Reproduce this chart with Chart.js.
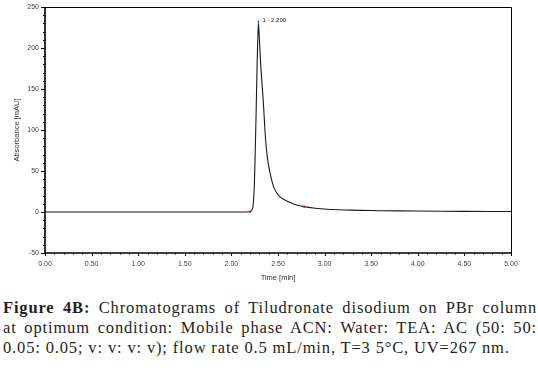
<!DOCTYPE html>
<html>
<head>
<meta charset="utf-8">
<script src="https://cdn.jsdelivr.net/npm/chart.js@4/dist/chart.umd.min.js"></script>
<style>
  html, body { margin: 0; padding: 0; background: #fff; }
  #wrap { position: relative; width: 538px; height: 390px; overflow: hidden; }
  #c { position: absolute; left: 0; top: 0; }
  #cap { position: absolute; left: 3px; top: 298px; width: 534px;
         font-family: "Liberation Serif", "Times New Roman", serif; font-size: 16.5px;
         letter-spacing: 0.85px; line-height: 20px; color: #231f20; }
  #cap div { white-space: nowrap; }
  #cap .j { text-align: justify; text-align-last: justify; }
  #cap b { font-weight: bold; color: #231f20; }
</style>
</head>
<body>
<div id="wrap">
  <canvas id="c" width="538" height="290"></canvas>
  <div id="cap">
    <div class="j"><b>Figure 4B:</b> Chromatograms of Tiludronate disodium on PBr column</div>
    <div class="j">at optimum condition: Mobile phase ACN: Water: TEA: AC (50: 50:</div>
    <div>0.05: 0.05; v: v: v: v); flow rate 0.5 mL/min, T=3 5°C, UV=267 nm.</div>
  </div>
</div>
<script>
// ---- data ----
const timeMin = [0, 1.0, 2.0, 2.15, 2.2, 2.22, 2.233, 2.247, 2.256, 2.266, 2.278, 2.29, 2.30, 2.315, 2.341, 2.36, 2.376, 2.40, 2.43, 2.455, 2.50, 2.56, 2.63, 2.70, 2.78, 2.90, 3.03, 3.20, 3.39, 3.60, 4.00, 4.50, 5.00];
const absorbance = [0, 0, 0, 0, 0.5, 2.5, 7, 36, 75, 125, 190, 229, 212, 178, 137, 100, 76, 56, 40, 30, 21, 15.5, 11.5, 8.5, 6.6, 4.5, 3.3, 2.5, 2.0, 1.6, 1.2, 0.8, 0.6];
const peakTime = 2.29;
const peakValue = 229;
const peakLabel = "1 - 2.290";
const markerTimes = [2.2, 2.78];
const markerValues = [0.5, 6.6];
const xTickLabels = ["0.00","0.50","1.00","1.50","2.00","2.50","3.00","3.50","4.00","4.50","5.00"];
const yTickLabels = ["-50","0","50","100","150","200","250"];

const curve = timeMin.map((t, i) => ({x: t, y: absorbance[i]}));
const markers = markerTimes.map((t, i) => ({x: t, y: markerValues[i]}));

const framePlugin = {
  id: 'frame',
  afterDatasetsDraw(chart) {
    const {ctx, chartArea: a, scales: {x, y}} = chart;
    ctx.save();
    ctx.strokeStyle = '#000';
    ctx.lineWidth = 1;
    ctx.beginPath();
    ctx.moveTo(a.left, a.top + 0.5); ctx.lineTo(a.right + 0.5, a.top + 0.5);
    ctx.lineTo(a.right + 0.5, a.bottom);
    ctx.stroke();
    ctx.lineWidth = 1.6;
    ctx.beginPath();
    ctx.moveTo(a.left, a.top); ctx.lineTo(a.left, a.bottom); ctx.lineTo(a.right + 1, a.bottom);
    ctx.stroke();
    ctx.lineWidth = 1;
    ctx.beginPath();
    for (let i = 0; i <= 50; i++) {
      const px = Math.round(x.getPixelForValue(i / 10)) + 0.5;
      const len = (i % 5 === 0) ? 3 : 1.5;
      ctx.moveTo(px, a.bottom); ctx.lineTo(px, a.bottom + len);
    }
    for (let i = -5; i <= 25; i++) {
      const py = Math.round(y.getPixelForValue(i * 10)) + 0.5;
      const len = (i % 5 === 0) ? 4 : 2;
      ctx.moveTo(a.left, py); ctx.lineTo(a.left - len, py);
    }
    ctx.stroke();
    const ppx = x.getPixelForValue(peakTime);
    const ppy = y.getPixelForValue(peakValue);
    ctx.strokeStyle = '#1f3fff';
    ctx.beginPath();
    ctx.moveTo(ppx, ppy); ctx.lineTo(ppx, ppy - 4);
    ctx.stroke();
    ctx.fillStyle = '#222';
    ctx.font = '6px "Liberation Sans", Arial, sans-serif';
    ctx.textBaseline = 'middle';
    ctx.fillText(peakLabel, ppx + 4, ppy - 3.5);
    ctx.restore();
  }
};

new Chart(document.getElementById('c'), {
  type: 'scatter',
  data: {
    datasets: [
      { data: curve, showLine: true, borderColor: '#1a1a1a', borderWidth: 1.1, pointRadius: 0, tension: 0.2, order: 2 },
      { data: markers, showLine: false, pointRadius: 1.2, pointBackgroundColor: '#e00000', pointBorderWidth: 0, order: 1 }
    ]
  },
  options: {
    responsive: false,
    animation: false,
    events: [],
    layout: { padding: { top: 7, right: 27, left: 0, bottom: 0 } },
    plugins: { legend: { display: false }, tooltip: { enabled: false } },
    scales: {
      x: {
        type: 'linear', min: 0, max: 5,
        grid: { display: false, drawTicks: false },
        border: { display: false },
        ticks: { stepSize: 0.5, padding: 7, maxRotation: 0, autoSkip: false,
                 color: '#444', font: { size: 7, family: '"Liberation Sans", Arial, sans-serif' },
                 callback: (v) => { const i = Math.round(v * 2); return xTickLabels[i] ?? ''; } },
        title: { display: true, text: 'Time [min]', color: '#333',
                 font: { size: 7.5, family: '"Liberation Sans", Arial, sans-serif' },
                 padding: { top: 0, bottom: 8 } },
        afterFit: (s) => { s.height = 37; }
      },
      y: {
        type: 'linear', min: -50, max: 250,
        grid: { display: false, drawTicks: false },
        border: { display: false },
        ticks: { stepSize: 50, padding: 6,
                 color: '#444', font: { size: 7, family: '"Liberation Sans", Arial, sans-serif' },
                 callback: (v) => { const i = Math.round(v / 50) + 1; return yTickLabels[i] ?? ''; } },
        title: { display: true, text: 'Absorbance [mAU]', color: '#333',
                 font: { size: 7.5, family: '"Liberation Sans", Arial, sans-serif' },
                 padding: { top: 12, bottom: 0 } },
        afterFit: (s) => { s.width = 45; s.paddingTop = 0; s.paddingBottom = 0; }
      }
    }
  },
  plugins: [framePlugin]
});
</script>
</body>
</html>
